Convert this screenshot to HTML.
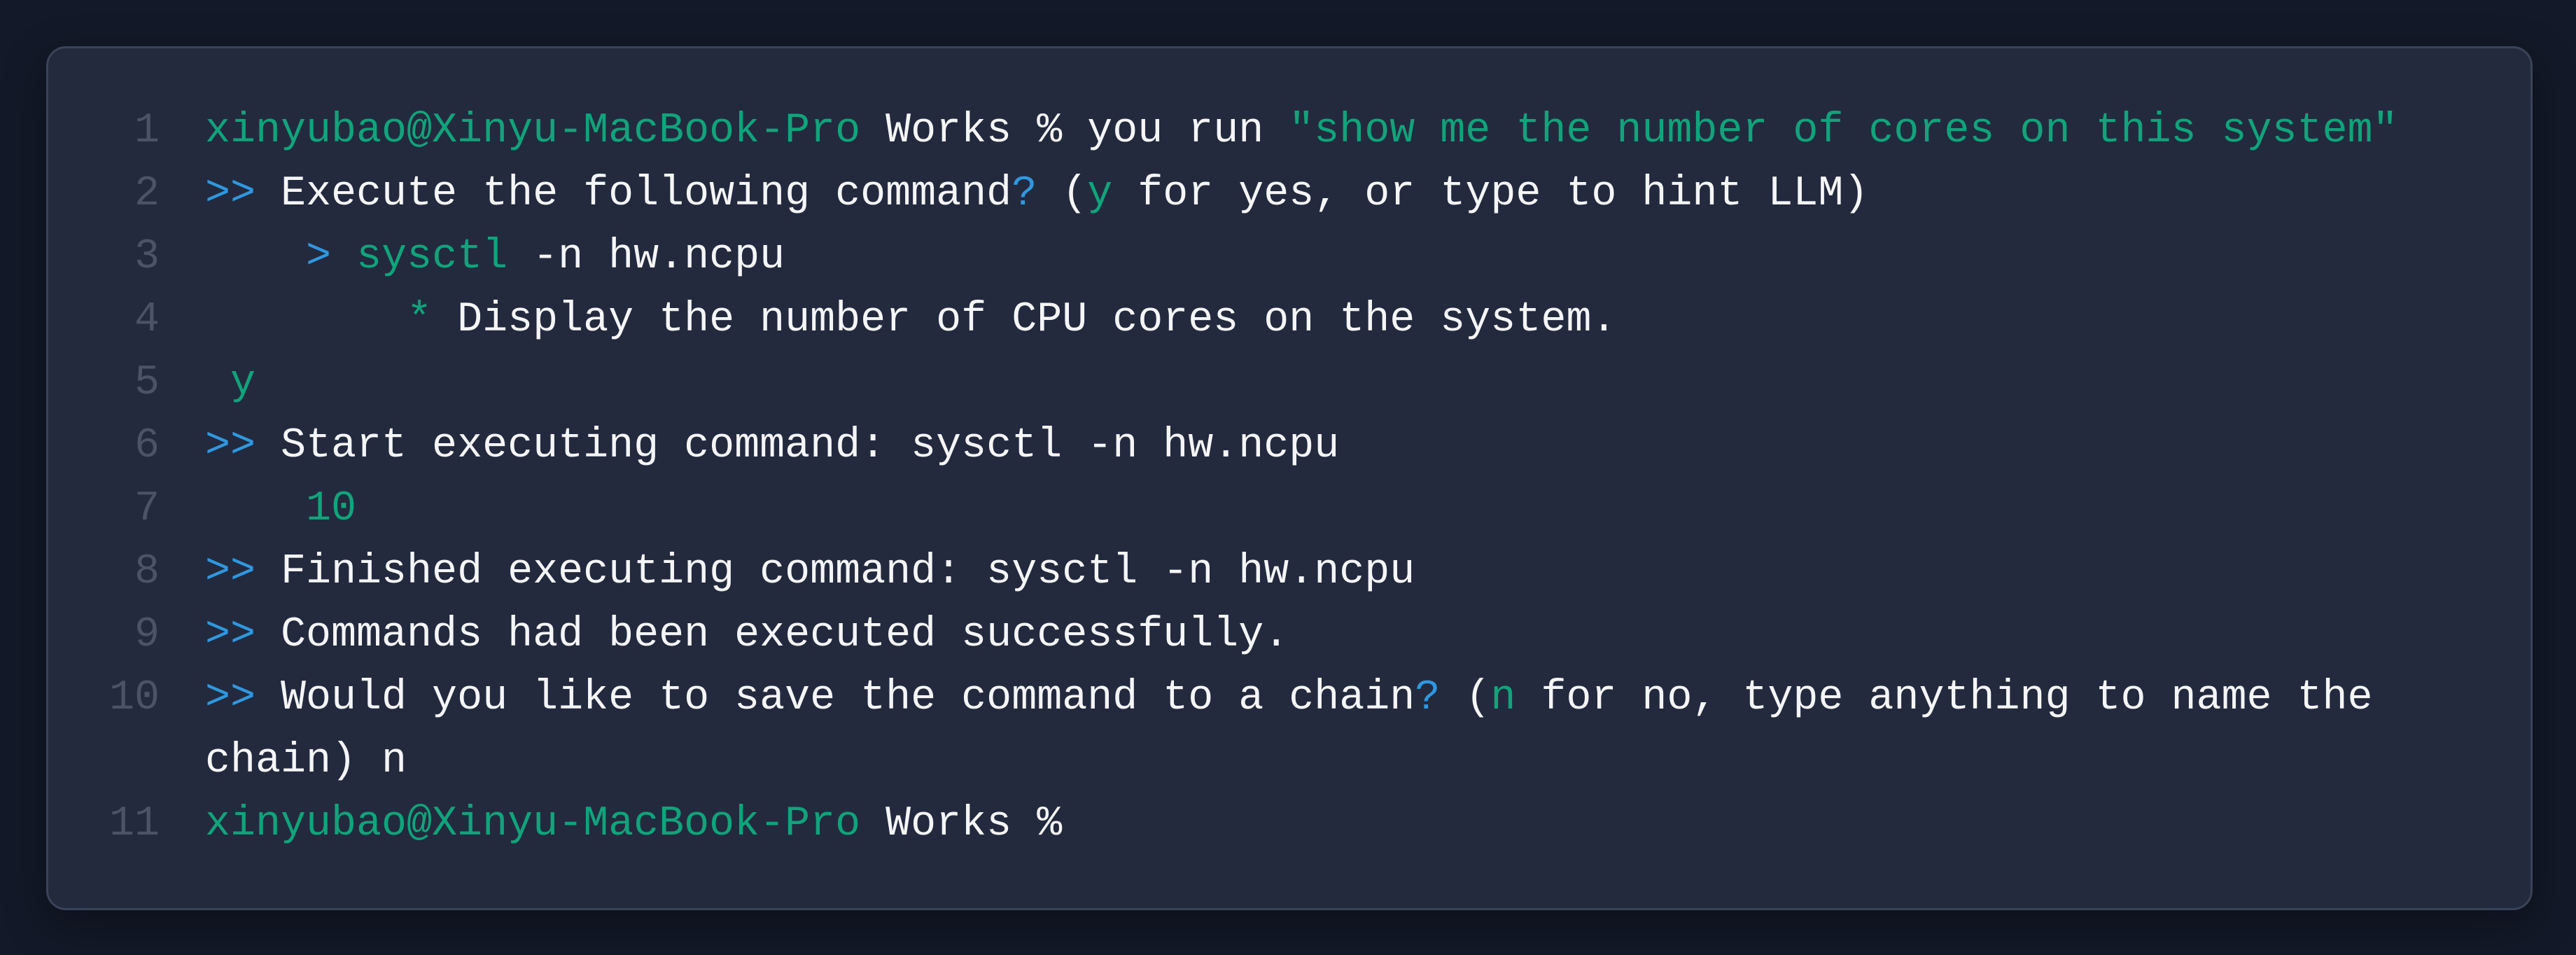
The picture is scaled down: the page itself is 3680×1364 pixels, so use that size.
<!DOCTYPE html>
<html><head><meta charset="utf-8"><style>
html,body{margin:0;padding:0;}
body{width:3680px;height:1364px;background:#131928;position:relative;overflow:hidden;font-family:"Liberation Mono",monospace;}
.card{position:absolute;left:66px;top:66px;width:3546px;height:1228px;background:#232a3e;border:3px solid #3a4357;border-radius:28px;box-shadow:0 20px 60px rgba(0,0,0,0.35);}
.row{position:absolute;left:-69px;width:3600px;height:90px;line-height:90px;font-size:60px;white-space:pre;color:#f4f5f7;}
.n{position:absolute;left:0;width:228px;text-align:right;color:#4b5368;}
.t{position:absolute;left:293px;}
.g{color:#10a47c;}
.b{color:#2f98e0;}
</style></head><body>
<div class="card">
<div class="row" style="top:73px"><span class="n">1</span><span class="t"><span class="g">xinyubao@Xinyu-MacBook-Pro</span> Works % you run <span class="g">"show me the number of cores on this system"</span></span></div>
<div class="row" style="top:163px"><span class="n">2</span><span class="t"><span class="b">&gt;&gt;</span> Execute the following command<span class="b">?</span> (<span class="g">y</span> for yes, or type to hint LLM)</span></div>
<div class="row" style="top:253px"><span class="n">3</span><span class="t">    <span class="b">&gt;</span> <span class="g">sysctl</span> -n hw.ncpu</span></div>
<div class="row" style="top:343px"><span class="n">4</span><span class="t">        <span class="g">*</span> Display the number of CPU cores on the system.</span></div>
<div class="row" style="top:433px"><span class="n">5</span><span class="t"> <span class="g">y</span></span></div>
<div class="row" style="top:523px"><span class="n">6</span><span class="t"><span class="b">&gt;&gt;</span> Start executing command: sysctl -n hw.ncpu</span></div>
<div class="row" style="top:613px"><span class="n">7</span><span class="t">    <span class="g">10</span></span></div>
<div class="row" style="top:703px"><span class="n">8</span><span class="t"><span class="b">&gt;&gt;</span> Finished executing command: sysctl -n hw.ncpu</span></div>
<div class="row" style="top:793px"><span class="n">9</span><span class="t"><span class="b">&gt;&gt;</span> Commands had been executed successfully.</span></div>
<div class="row" style="top:883px"><span class="n">10</span><span class="t"><span class="b">&gt;&gt;</span> Would you like to save the command to a chain<span class="b">?</span> (<span class="g">n</span> for no, type anything to name the</span></div>
<div class="row" style="top:973px"><span class="t">chain) n</span></div>
<div class="row" style="top:1063px"><span class="n">11</span><span class="t"><span class="g">xinyubao@Xinyu-MacBook-Pro</span> Works %</span></div>
</div>
</body></html>
